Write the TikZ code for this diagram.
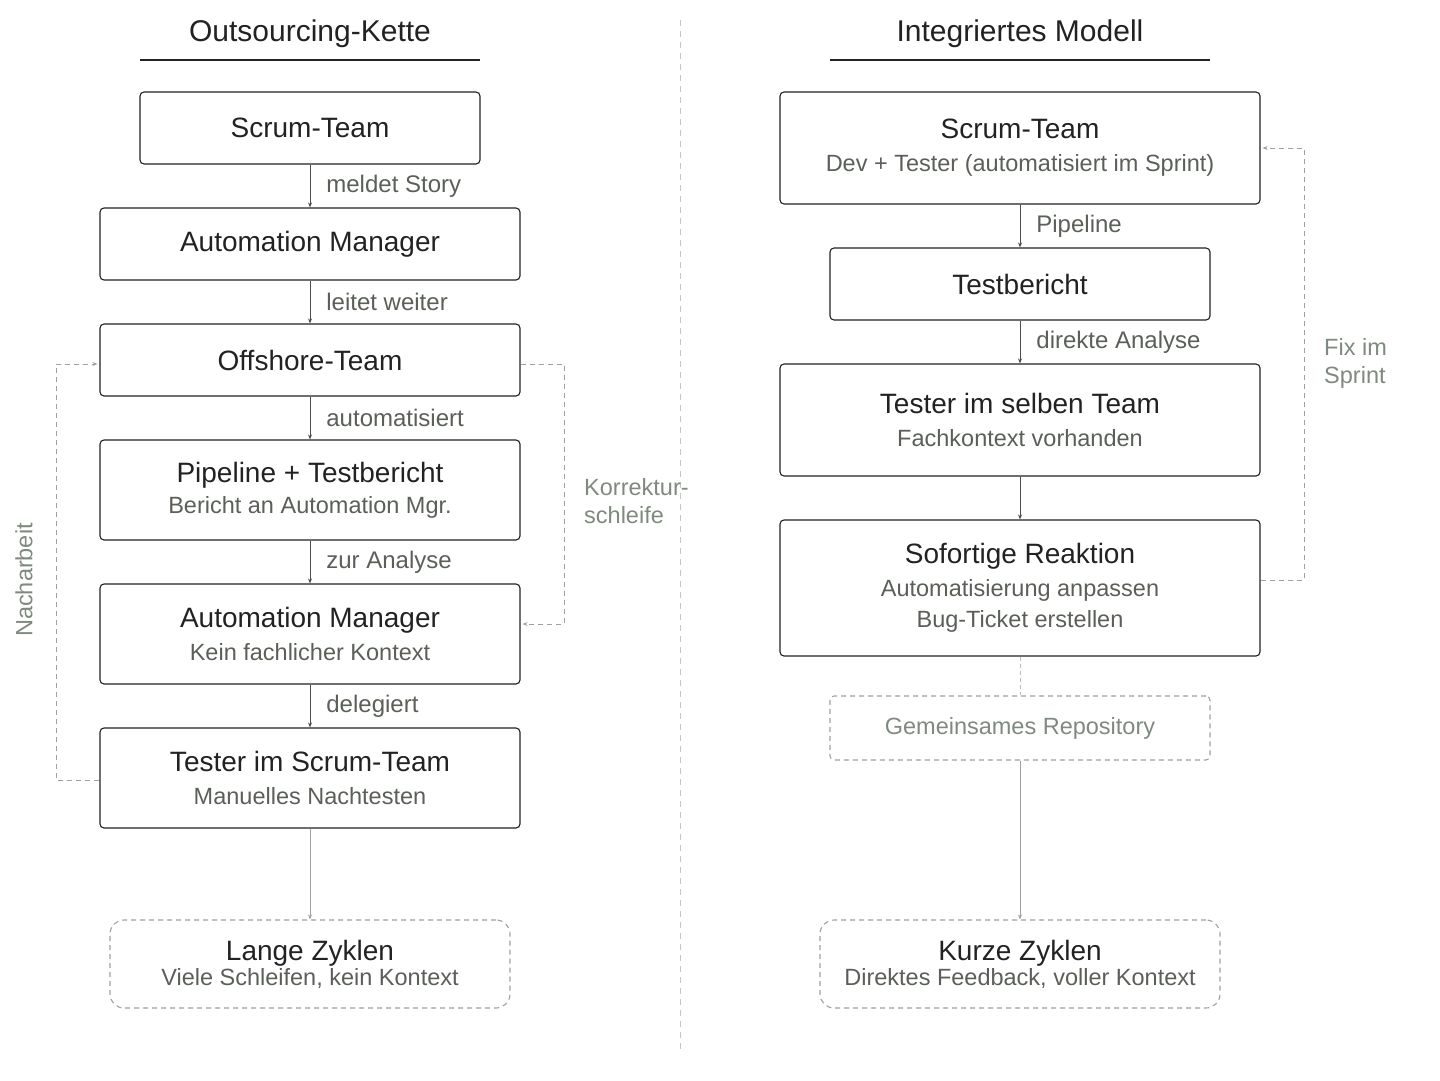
\documentclass[tikz,border=0pt]{standalone}
\usepackage{fontspec}
\setmainfont{Liberation Sans}
\usetikzlibrary{positioning,arrows.meta}
\definecolor{ink}{HTML}{222222}
\definecolor{sub}{HTML}{5A5F58}
\definecolor{soft}{HTML}{A0A0A0}
\definecolor{note}{HTML}{7E8A7E}
\tikzset{
  box/.style={draw=ink,line width=1.1pt,rounded corners=4pt,text=ink,align=center,font=\fontsize{28}{33}\selectfont,inner sep=0pt},
  ghost/.style={box,draw=soft,dashed,dash pattern=on 5pt off 4pt,rounded corners=14pt},
  flow/.style={draw=ink!80,line width=0.8pt,-{Stealth[length=5pt,width=4pt]}},
  back/.style={draw=soft,line width=1pt,dashed,dash pattern=on 5pt off 4pt,-{Stealth[length=5pt,width=4pt]}},
  lbl/.style={text=sub,font=\fontsize{24}{28}\selectfont,anchor=west,inner sep=0pt},
  hint/.style={text=note,font=\fontsize{23.5}{28}\selectfont,align=left,inner sep=0pt}
}
\newcommand{\subl}[1]{{\color{sub}\fontsize{23.5}{33}\selectfont #1}}
\begin{document}
\begin{tikzpicture}[x=1pt,y=-1pt]
\useasboundingbox (0,0) rectangle (1440,1080);
\draw[soft!60,line width=1pt,dashed,dash pattern=on 6pt off 5pt] (680,20) -- (680,1050);

% Outsourcing-Kette
\node[text=ink,font=\fontsize{30}{34}\selectfont] (tl) at (310,34) {Outsourcing-Kette};
\draw[ink,line width=1.1pt] (140,60) -- (480,60);
\node[box,minimum width=340,minimum height=72] (st) at (310,128) {\raisebox{-8pt}{Scrum-Team}};
\node[box,minimum width=420,minimum height=72] (am) at (310,244) {\raisebox{-8pt}{Automation Manager}};
\node[box,minimum width=420,minimum height=72] (off) at (310,360) {\raisebox{-8pt}{Offshore-Team}};
\node[box,minimum width=420,minimum height=100] (pip) at (310,490) {Pipeline + Testbericht\\[-2pt]\subl{Bericht an Automation Mgr.}};
\node[box,minimum width=420,minimum height=100] (amb) at (310,634) {Automation Manager\\\subl{Kein fachlicher Kontext}};
\node[box,minimum width=420,minimum height=100] (tst) at (310,778) {Tester im Scrum-Team\\\subl{Manuelles Nachtesten}};
\node[ghost,minimum width=400,minimum height=88] (lz) at (310,964) {\raisebox{-6pt}{Lange Zyklen}\\[-2pt]\subl{Viele Schleifen, kein Kontext}};

\draw[flow] (st) -- (am) node[lbl,midway,xshift=16pt] {meldet Story};
\draw[flow] (am) -- (off) node[lbl,midway,xshift=16pt] {leitet weiter};
\draw[flow] (off) -- (pip) node[lbl,midway,xshift=16pt] {automatisiert};
\draw[flow] (pip) -- (amb) node[lbl,midway,xshift=16pt] {zur Analyse};
\draw[flow] (amb) -- (tst) node[lbl,midway,xshift=16pt] {delegiert};
\draw[flow,draw=soft] (tst) -- (lz);

\coordinate (kr) at (564,364);
\draw[back] (off.east |- kr) -- (kr) |- ([xshift=2pt]amb.east |- 0,624);
\node[hint,anchor=north west] (kn) at (584,478) {Korrektur-\\schleife};
\coordinate (nb) at (56,780);
\draw[back] (tst.west |- nb) -- (nb) |- ([xshift=-2pt]off.west |- 0,364);
\node[text=note,font=\fontsize{23.5}{28}\selectfont,rotate=90] (nt) at (24,580) {Nacharbeit};

% Integriertes Modell
\node[text=ink,font=\fontsize{30}{34}\selectfont] (tr) at (1020,34) {Integriertes Modell};
\draw[ink,line width=1.1pt] (830,60) -- (1210,60);
\node[box,minimum width=480,minimum height=112] (rst) at (1020,148) {Scrum-Team\\\subl{Dev + Tester (automatisiert im Sprint)}};
\node[box,minimum width=380,minimum height=72] (tb) at (1020,284) {\raisebox{-8pt}{Testbericht}};
\node[box,minimum width=480,minimum height=112] (ts) at (1020,420) {Tester im selben Team\\\subl{Fachkontext vorhanden}};
\node[box,minimum width=480,minimum height=136] (sr) at (1020,588) {Sofortige Reaktion\\\subl{Automatisierung anpassen}\\[-2pt]\subl{Bug-Ticket erstellen}};
\node[ghost,rounded corners=4pt,minimum width=380,minimum height=64,text=note] (rep) at (1020,728) {\raisebox{-8pt}{\color{note}\fontsize{23.5}{28}\selectfont Gemeinsames Repository}};
\node[ghost,minimum width=400,minimum height=88] (kz) at (1020,964) {\raisebox{-6pt}{Kurze Zyklen}\\[-2pt]\subl{Direktes Feedback, voller Kontext}};

\draw[flow] (rst) -- (tb) node[lbl,midway,xshift=16pt] {Pipeline};
\draw[flow] (tb) -- (ts) node[lbl,midway,xshift=16pt] {direkte Analyse};
\draw[flow] (ts) -- (sr);
\draw[soft!70,line width=1pt,dashed,dash pattern=on 4pt off 3pt] (sr) -- (rep);
\draw[flow,draw=soft] (rep) -- (kz);

\coordinate (fx) at (1304,580);
\draw[back] (sr.east |- fx) -- (fx) |- ([xshift=2pt]rst.east);
\node[hint,anchor=north west] (fn) at (1324,338) {Fix im\\Sprint};
\end{tikzpicture}
\end{document}
